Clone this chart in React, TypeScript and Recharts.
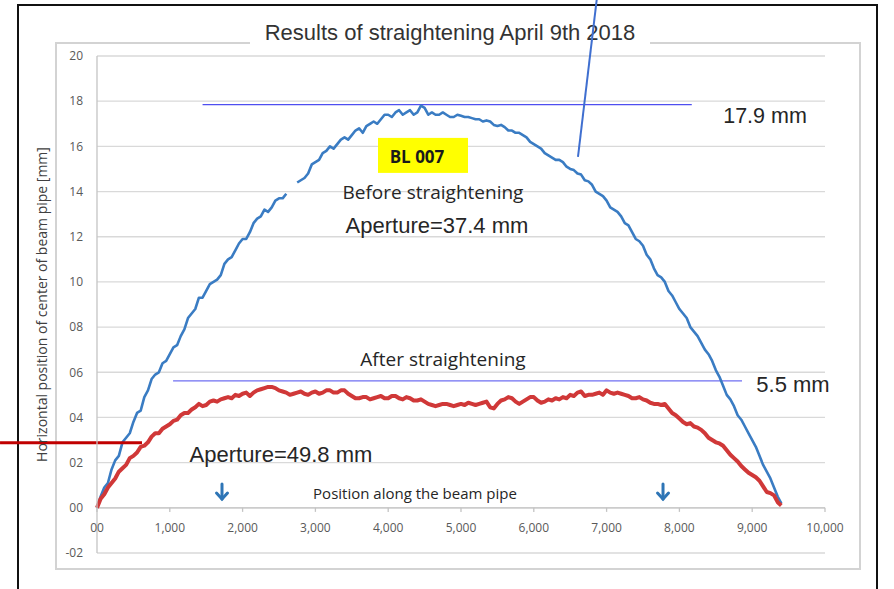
import { LineChart, Line, XAxis, YAxis, CartesianGrid, ReferenceLine, ReferenceDot } from "recharts";

// readings every 50 along the pipe, from 0 to 9400
const beforeValues = [
  0, 0.5, 0.9, 1.1, 1.7, 2.1, 2.3, 2.9, 3.1, 3.3,
  3.8, 4.2, 4.3, 4.9, 5.2, 5.7, 5.9, 6.0, 6.4, 6.5,
  6.8, 7.1, 7.2, 7.6, 7.9, 8.4, 8.6, 8.8, 9.3, 9.3,
  9.6, 9.9, 10.0, 10.1, 10.3, 10.8, 11.0, 11.1, 11.4, 11.7,
  11.9, 11.9, 12.2, 12.6, 12.8, 12.9, 13.2, 13.1, 13.3, 13.6,
  13.7, 13.7, 13.9, null, null, 14.4, 14.5, 14.6, 14.8, 15.2,
  15.3, 15.4, 15.7, 15.8, 16.0, 15.9, 16.1, 16.3, 16.4, 16.3,
  16.5, 16.7, 16.8, 16.6, 16.9, 17.0, 17.1, 17.0, 17.2, 17.4,
  17.4, 17.3, 17.5, 17.6, 17.4, 17.5, 17.6, 17.4, 17.5, 17.8,
  17.7, 17.4, 17.5, 17.4, 17.4, 17.5, 17.4, 17.3, 17.3, 17.4,
  17.35, 17.3, 17.3, 17.25, 17.2, 17.2, 17.1, 17.15, 17.1, 16.95,
  16.9, 16.95, 16.85, 16.7, 16.7, 16.6, 16.6, 16.5, 16.4, 16.2,
  16.1, 16.0, 15.9, 15.7, 15.6, 15.5, 15.4, 15.4, 15.3, 15.1,
  15.0, 14.95, 14.8, 14.75, 14.5, 14.45, 14.3, 14.0, 13.9, 13.8,
  13.6, 13.3, 13.2, 13.1, 12.9, 12.6, 12.5, 12.2, 11.9, 11.8,
  11.6, 11.2, 11.0, 10.6, 10.3, 10.2, 10.0, 9.6, 9.4, 9.1,
  8.8, 8.6, 8.4, 8.0, 7.8, 7.6, 7.3, 7.0, 6.8, 6.5,
  6.1, 5.8, 5.4, 5.0, 4.8, 4.5, 4.1, 3.9, 3.6, 3.3,
  3.0, 2.7, 2.3, 1.9, 1.6, 1.3, 0.9, 0.5, 0.2,
];

const afterValues = [
  0, 0.4, 0.6, 0.9, 1.1, 1.3, 1.6, 1.75, 1.9, 2.2,
  2.3, 2.45, 2.7, 2.75, 2.9, 3.15, 3.3, 3.3, 3.5, 3.6,
  3.7, 3.85, 3.9, 4.1, 4.2, 4.2, 4.35, 4.45, 4.6, 4.5,
  4.55, 4.7, 4.75, 4.7, 4.8, 4.85, 4.9, 4.85, 5.0, 4.95,
  5.05, 5.1, 4.95, 5.1, 5.2, 5.25, 5.3, 5.35, 5.35, 5.3,
  5.2, 5.15, 5.1, 5.0, 5.05, 5.1, 5.15, 5.05, 5.0, 5.1,
  5.15, 5.05, 5.1, 5.2, 5.2, 5.1, 5.1, 5.2, 5.2, 5.05,
  4.95, 4.85, 4.85, 4.9, 4.9, 4.8, 4.85, 4.9, 4.95, 4.85,
  4.85, 4.95, 4.95, 4.85, 4.8, 4.9, 4.85, 4.75, 4.75, 4.8,
  4.7, 4.6, 4.55, 4.5, 4.55, 4.6, 4.6, 4.55, 4.5, 4.55,
  4.6, 4.55, 4.65, 4.6, 4.55, 4.6, 4.65, 4.7, 4.45, 4.4,
  4.6, 4.75, 4.8, 4.9, 4.85, 4.7, 4.6, 4.7, 4.8, 4.9,
  4.9, 4.75, 4.65, 4.7, 4.8, 4.75, 4.85, 4.8, 4.9, 4.85,
  5.0, 4.95, 5.1, 5.15, 4.95, 5.0, 5.0, 5.05, 5.1, 5.0,
  5.2, 5.1, 5.05, 5.1, 5.05, 5.0, 4.95, 4.85, 4.85, 4.9,
  4.8, 4.75, 4.65, 4.6, 4.6, 4.55, 4.6, 4.4, 4.2, 4.1,
  3.95, 3.8, 3.7, 3.75, 3.6, 3.55, 3.45, 3.3, 3.1, 3.0,
  2.9, 2.85, 2.75, 2.55, 2.35, 2.2, 2.05, 1.85, 1.7, 1.55,
  1.45, 1.35, 1.2, 0.95, 0.7, 0.65, 0.55, 0.25, 0.1,
];

const step = 50;
const xTicks = [0, 1000, 2000, 3000, 4000, 5000, 6000, 7000, 8000, 9000, 10000];
const yTicks = [-2, 0, 2, 4, 6, 8, 10, 12, 14, 16, 18, 20];

const beforeMax = 17.85;
const afterMax = 5.62;
const arrowPositions = [1717, 7775];

const data = beforeValues.map((v, i) => ({ x: i * step, before: v, after: afterValues[i] }));

const SANS = "'Liberation Sans', Arial, sans-serif";
const BODY = "'Open Sans', 'Noto Sans', sans-serif";
const BLUE = "#3a7cc3";
const RED = "#d03838";

function fmtY(v: number) {
  if (v < 0) return "-" + String(Math.abs(v)).padStart(2, "0");
  return String(v).padStart(2, "0");
}

function fmtX(v: number) {
  return v === 0 ? "00" : v.toLocaleString("en-US");
}

function textShape(value: string, size: number, family: string, weight = 400) {
  return (p: any) => (
    <text
      x={p.cx}
      y={p.cy}
      textAnchor="middle"
      dominantBaseline="central"
      fontSize={size}
      fontFamily={family}
      fontWeight={weight}
      fill="#262626"
    >
      {value}
    </text>
  );
}

export default function App() {
  return (
    <div
      style={{
        position: "fixed",
        left: 0,
        top: 0,
        width: 894,
        height: 589,
        background: "#fff",
        overflow: "hidden",
      }}
    >
      {/* slide frame */}
      <div
        style={{
          position: "absolute",
          left: 17,
          top: 4,
          width: 857,
          height: 700,
          border: "2px solid #111",
        }}
      />
      {/* chart area frame */}
      <div
        style={{
          position: "absolute",
          left: 55,
          top: 42,
          width: 802,
          height: 524,
          border: "2px solid #d3d3d3",
        }}
      />
      <div
        style={{
          position: "absolute",
          left: 250,
          top: 18,
          width: 400,
          height: 30,
          background: "#fff",
          textAlign: "center",
          fontFamily: SANS,
          fontSize: 22,
          lineHeight: "30px",
          color: "#333",
          whiteSpace: "nowrap",
        }}
      >
        Results of straightening April 9th 2018
      </div>

      <div style={{ position: "absolute", left: 0, top: 0 }}>
        <LineChart
          width={894}
          height={589}
          data={data}
          margin={{ top: 56, right: 69, bottom: 36, left: 37 }}
        >
          <CartesianGrid vertical={false} stroke="#d9d9d9" strokeWidth={1.3} />
          <XAxis dataKey="x" type="number" domain={[0, 10000]} ticks={xTicks} hide />
          <YAxis
            type="number"
            domain={[-2, 20]}
            ticks={yTicks}
            interval={0}
            width={60}
            tickFormatter={fmtY}
            axisLine={{ stroke: "#c4c4c4", strokeWidth: 1.3 }}
            tickLine={false}
            tickMargin={8}
            tick={{ fontSize: 12, fill: "#595959", fontFamily: BODY }}
            label={{
              value: "Horizontal position of center of beam pipe [mm]",
              angle: -90,
              position: "insideLeft",
              offset: 5,
              style: { textAnchor: "middle", fontSize: 14, fill: "#404040", fontFamily: BODY },
            }}
          />

          {/* x axis drawn at zero */}
          <ReferenceLine y={0} stroke="#c4c4c4" strokeWidth={1.3} />
          {xTicks.map((v) => (
            <ReferenceLine
              key={"t" + v}
              segment={[
                { x: v, y: 0 },
                { x: v, y: -0.18 },
              ]}
              stroke="#c4c4c4"
              strokeWidth={1.3}
            />
          ))}
          {xTicks.map((v) => (
            <ReferenceDot
              key={"l" + v}
              x={v}
              y={-0.85}
              r={0}
              ifOverflow="visible"
              shape={(p: any) => (
                <text
                  x={p.cx}
                  y={p.cy}
                  textAnchor="middle"
                  dominantBaseline="central"
                  fontSize={12}
                  fontFamily={BODY}
                  fill="#595959"
                >
                  {fmtX(v)}
                </text>
              )}
            />
          ))}

          <ReferenceLine
            segment={[
              { x: 1450, y: beforeMax },
              { x: 8170, y: beforeMax },
            ]}
            stroke="#4f4ff0"
            strokeWidth={1.3}
          />
          <ReferenceLine
            segment={[
              { x: 1045, y: afterMax },
              { x: 8860, y: afterMax },
            ]}
            stroke="#6f6ff2"
            strokeWidth={1.3}
          />

          <Line
            dataKey="before"
            stroke={BLUE}
            strokeWidth={2.6}
            strokeLinejoin="round"
            dot={false}
            connectNulls={false}
            isAnimationActive={false}
          />
          <Line
            dataKey="after"
            stroke={RED}
            strokeWidth={4}
            strokeLinejoin="round"
            dot={false}
            isAnimationActive={false}
          />

          {/* callout lines */}
          <ReferenceLine
            segment={[
              { x: -1332, y: 2.88 },
              { x: 618, y: 2.88 },
            ]}
            ifOverflow="visible"
            stroke="#c00000"
            strokeWidth={3}
          />
          <ReferenceLine
            segment={[
              { x: 6868, y: 22.6 },
              { x: 6607, y: 15.53 },
            ]}
            ifOverflow="visible"
            stroke="#3f6fd0"
            strokeWidth={2}
          />

          {arrowPositions.map((v) => (
            <ReferenceDot
              key={"a" + v}
              x={v}
              y={0.7}
              r={0}
              shape={(p: any) => (
                <g stroke="#2e75b6" strokeWidth={3} fill="none" strokeLinecap="round">
                  <line x1={p.cx} y1={p.cy - 8} x2={p.cx} y2={p.cy + 7} />
                  <polyline points={`${p.cx - 5.5},${p.cy + 1} ${p.cx},${p.cy + 7} ${p.cx + 5.5},${p.cy + 1}`} />
                </g>
              )}
            />
          ))}

          <ReferenceDot
            x={4478}
            y={15.6}
            r={0}
            shape={(p: any) => (
              <g>
                <rect x={p.cx - 45} y={p.cy - 17.5} width={90} height={35} fill="#ffff00" />
                <text
                  x={p.cx - 6}
                  y={p.cy + 1}
                  textAnchor="middle"
                  dominantBaseline="central"
                  fontSize={17}
                  fontWeight={700}
                  fontFamily={BODY}
                  fill="#1a1a1a"
                >
                  BL 007
                </text>
              </g>
            )}
          />
          <ReferenceDot x={4615} y={13.98} r={0} shape={textShape("Before straightening", 19, BODY)} />
          <ReferenceDot x={4670} y={12.48} r={0} shape={textShape("Aperture=37.4 mm", 22, SANS)} />
          <ReferenceDot x={9176} y={17.35} r={0} shape={textShape("17.9 mm", 21.5, SANS)} />
          <ReferenceDot x={4753} y={6.59} r={0} shape={textShape("After straightening", 19, BODY)} />
          <ReferenceDot x={9560} y={5.44} r={0} ifOverflow="visible" shape={textShape("5.5 mm", 22, SANS)} />
          <ReferenceDot x={2527} y={2.35} r={0} shape={textShape("Aperture=49.8 mm", 22, SANS)} />
          <ReferenceDot x={4368} y={0.66} r={0} shape={textShape("Position along the beam pipe", 15, BODY)} />
        </LineChart>
      </div>
    </div>
  );
}
